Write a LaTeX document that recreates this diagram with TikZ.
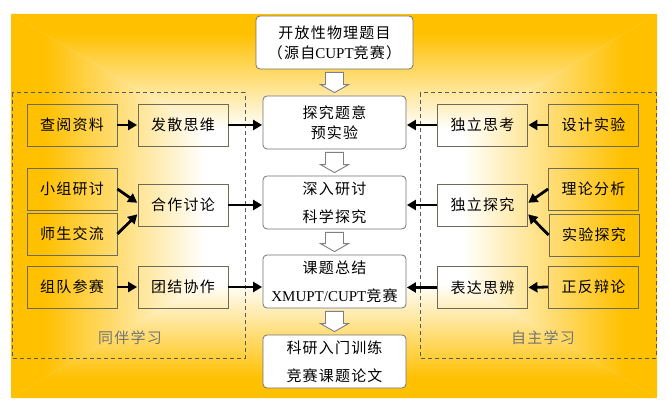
\documentclass[tikz,border=0pt]{standalone}
\usepackage{fontspec}
\setmainfont{Liberation Serif}
\newfontfamily\cjk[LetterSpace=8]{Noto Sans CJK SC}
\usetikzlibrary{arrows.meta,calc}
\definecolor{bggold}{HTML}{FFC000}
\definecolor{boxline}{HTML}{6E6A58}
\pgfdeclareverticalshading{bgv}{100bp}{color(0bp)=(white); color(45bp)=(white); color(70bp)=(bggold); color(100bp)=(bggold)}
\pgfdeclarehorizontalshading{bgh}{100bp}{color(0bp)=(bggold); color(30bp)=(bggold); color(55bp)=(white); color(100bp)=(white)}
\tikzset{
  sbox/.style={draw=boxline, line width=0.8pt, minimum width=90pt, minimum height=42pt, inner sep=0pt,
    font=\cjk\fontsize{15}{18}\selectfont},
  cbox/.style={draw=black!55, line width=0.8pt, fill=white, rounded corners=4pt, minimum width=143pt,
    minimum height=53pt, inner sep=0pt, align=center},
  lsp/.style={font=\cjk\fontsize{15}{20}\selectfont},
  wsp/.style={font=\cjk\fontsize{15}{28}\selectfont},
  blk/.style={line width=2.8pt, -{Triangle[length=9pt,width=10pt]}, shorten >=0.5pt},
  hollow/.style={draw=black!50, line width=0.9pt, fill=white, line join=miter},
  dbox/.style={draw=black!65, line width=1pt, dash pattern=on 4pt off 3pt},
  grp/.style={font=\cjk\fontsize{15}{18}\selectfont, text=black!55},
}
\newcommand\hollowarr[2]{%
  \draw[hollow] ([shift={(-9,3)}]#1.south) -- ([shift={(9,3)}]#1.south)
    -- ([shift={(9,-11)}]#2.north) -- ([shift={(14,-11)}]#2.north)
    -- ([shift={(0,-3)}]#2.north) -- ([shift={(-14,-11)}]#2.north)
    -- ([shift={(-9,-11)}]#2.north) -- cycle;}
\begin{document}
\begin{tikzpicture}[x=1pt,y=-1pt]
\useasboundingbox (0,0) rectangle (667,409);
\fill[white] (0,0) rectangle (667,409);
% background
\coordinate (bgc) at (334,206);
\fill[white] (11,14) rectangle (657,398);
\path[shading=bgv] (11,14) -- (657,14) -- (bgc) -- cycle;
\path[shading=bgv, shading angle=180] (11,398) -- (657,398) -- (bgc) -- cycle;
\path[shading=bgh] (11,14) -- (11,398) -- (bgc) -- cycle;
\path[shading=bgh, shading angle=180] (657,14) -- (657,398) -- (bgc) -- cycle;
% dashed groups
\draw[dbox] (12,93) rectangle (245,358);
\draw[dbox] (420,93) rectangle (656,358);
\node[grp] (g1) at (130,338) {同伴学习};
\node[grp] (g2) at (543,338) {自主学习};
% central column
\node[cbox, lsp, minimum width=157pt] (top) at (334.5,42.5) {开放性物理题目\\（源自{\rmfamily CUPT}竞赛）};
\node[cbox, lsp] (c1) at (334.5,122.5) {探究题意\\预实验};
\node[cbox, wsp] (c2) at (334.5,202.5) {深入研讨\\科学探究};
\node[cbox, wsp] (c3) at (334.5,281.5) {课题总结\\{\rmfamily XMUPT/CUPT}竞赛};
\node[cbox, wsp] (c4) at (334.5,361.5) {科研入门训练\\竞赛课题论文};
\hollowarr{top}{c1}
\hollowarr{c1}{c2}
\hollowarr{c2}{c3}
\hollowarr{c3}{c4}
% left side
\node[sbox] (l1) at (72,125) {查阅资料};
\node[sbox] (l2) at (183,125) {发散思维};
\node[sbox] (l3) at (72,189) {小组研讨};
\node[sbox] (l4) at (72,234) {师生交流};
\node[sbox] (l5) at (183,205) {合作讨论};
\node[sbox] (l6) at (72,287) {组队参赛};
\node[sbox] (l7) at (183,287) {团结协作};
% right side
\node[sbox] (r1) at (482.5,125) {独立思考};
\node[sbox] (r2) at (593.5,125) {设计实验};
\node[sbox] (r3) at (482.5,205) {独立探究};
\node[sbox] (r4) at (593.5,189) {理论分析};
\node[sbox] (r5) at (594,235) {实验探究};
\node[sbox] (r6) at (482.5,287.5) {表达思辨};
\node[sbox] (r7) at (593.5,287) {正反辩论};
% arrows left
\draw[blk] (l1.east) -- (l2.west);
\draw[blk] (l2.east) -- (c1.west |- l2.east);
\draw[blk] (l3.east) -- ([shift={(0,-2)}]l5.west);
\draw[blk] (l4.east) -- ([shift={(0,9)}]l5.west);
\draw[blk] (l5.east) -- (c2.west |- l5.east);
\draw[blk] (l6.east) -- (l7.west);
\draw[blk] (l7.east) -- (c3.west |- l7.east);
% arrows right
\draw[blk] (r2.west) -- (r1.east);
\draw[blk] (r1.west) -- (c1.east |- r1.west);
\draw[blk] (r4.west) -- ([shift={(0,-2)}]r3.east);
\draw[blk] (r5.west) -- ([shift={(0,9)}]r3.east);
\draw[blk] (r3.west) -- (c2.east |- r3.west);
\draw[blk] (r7.west) -- (r6.east);
\draw[blk] (r6.west) -- (c3.east |- r6.west);
\end{tikzpicture}
\end{document}
